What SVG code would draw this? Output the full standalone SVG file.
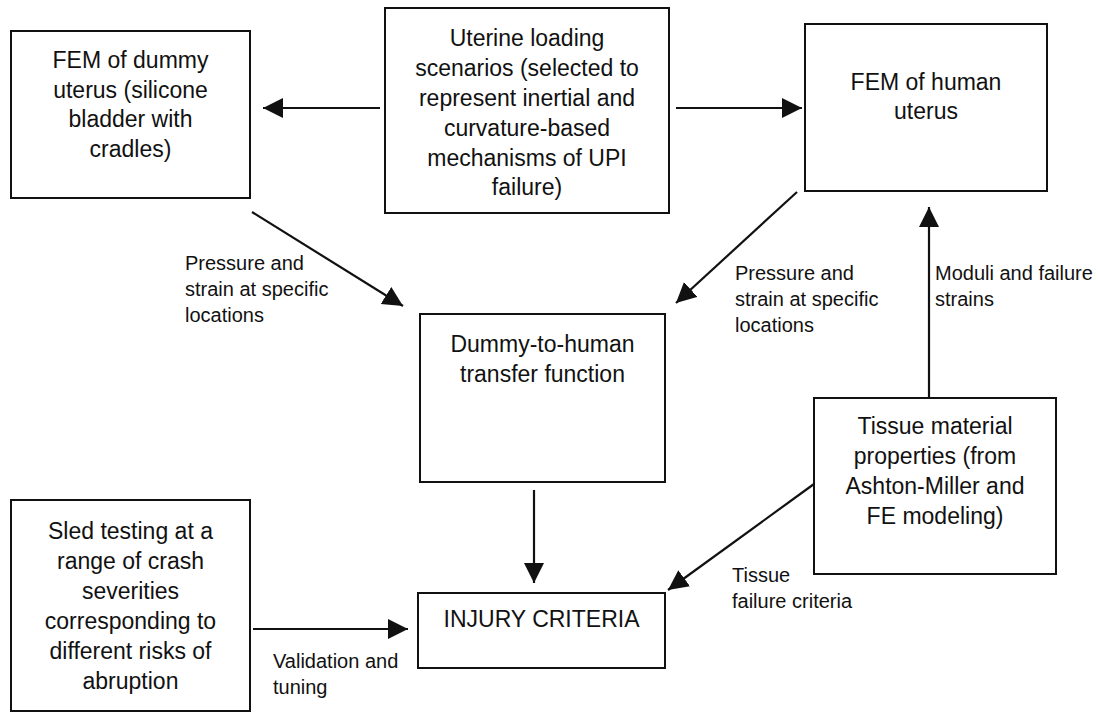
<svg xmlns="http://www.w3.org/2000/svg" width="1098" height="713" viewBox="0 0 1098 713">
<style>
.box{fill:#fff;stroke:#111;stroke-width:2}
.bt{font-family:"Liberation Sans",Arial,sans-serif;font-size:23px;fill:#111;text-anchor:middle}
.lb{font-family:"Liberation Sans",Arial,sans-serif;font-size:20px;fill:#111}
.ar{stroke:#111;stroke-width:2.2;fill:none;marker-end:url(#ah)}
</style>
<defs>
<marker id="ah" markerUnits="userSpaceOnUse" markerWidth="22" markerHeight="22" refX="20" refY="10" orient="auto">
<path d="M0,0 L20,10 L0,20 Z" fill="#111"/>
</marker>
</defs>
<rect width="1098" height="713" fill="#fff"/>
<g id="connectors">
<line class="ar" x1="380" y1="108" x2="263" y2="108"/>
<line class="ar" x1="676" y1="108" x2="802" y2="108"/>
<line class="ar" x1="252" y1="212" x2="403" y2="306"/>
<line class="ar" x1="797" y1="192" x2="676" y2="303"/>
<line class="ar" x1="534" y1="490" x2="534" y2="583"/>
<line class="ar" x1="253" y1="629" x2="408" y2="629"/>
<line class="ar" x1="929" y1="398" x2="929" y2="207"/>
<line class="ar" x1="814" y1="484" x2="668" y2="590"/>
<text class="lb" x="185" y="270">Pressure and</text>
<text class="lb" x="185" y="296">strain at specific</text>
<text class="lb" x="185" y="322">locations</text>
<text class="lb" x="735" y="280">Pressure and</text>
<text class="lb" x="735" y="306">strain at specific</text>
<text class="lb" x="735" y="332">locations</text>
<text class="lb" x="935" y="280">Moduli and failure</text>
<text class="lb" x="935" y="306">strains</text>
<text class="lb" x="732" y="582">Tissue</text>
<text class="lb" x="732" y="608">failure criteria</text>
<text class="lb" x="273" y="668">Validation and</text>
<text class="lb" x="273" y="694">tuning</text>
</g>
<g id="fem-dummy">
<rect class="box" x="11" y="31" width="239" height="167"/>
<text class="bt" x="130.5" y="68">FEM of dummy</text>
<text class="bt" x="130.5" y="98">uterus (silicone</text>
<text class="bt" x="130.5" y="127">bladder with</text>
<text class="bt" x="130.5" y="157">cradles)</text>
</g>
<g id="loading">
<rect class="box" x="385" y="8" width="284" height="205"/>
<text class="bt" x="527" y="46">Uterine loading</text>
<text class="bt" x="527" y="76">scenarios (selected to</text>
<text class="bt" x="527" y="106">represent inertial and</text>
<text class="bt" x="527" y="136">curvature-based</text>
<text class="bt" x="527" y="166">mechanisms of UPI</text>
<text class="bt" x="527" y="195">failure)</text>
</g>
<g id="fem-human">
<rect class="box" x="805" y="24" width="242" height="167"/>
<text class="bt" x="926" y="90">FEM of human</text>
<text class="bt" x="926" y="119">uterus</text>
</g>
<g id="transfer">
<rect class="box" x="420" y="314" width="245" height="168"/>
<text class="bt" x="542.5" y="352">Dummy-to-human</text>
<text class="bt" x="542.5" y="382">transfer function</text>
</g>
<g id="sled">
<rect class="box" x="11" y="500" width="239" height="211"/>
<text class="bt" x="130.5" y="539">Sled testing at a</text>
<text class="bt" x="130.5" y="569">range of crash</text>
<text class="bt" x="130.5" y="599">severities</text>
<text class="bt" x="130.5" y="629">corresponding to</text>
<text class="bt" x="130.5" y="659">different risks of</text>
<text class="bt" x="130.5" y="689">abruption</text>
</g>
<g id="injury">
<rect class="box" x="418" y="593" width="247" height="75"/>
<text class="bt" x="541.5" y="627">INJURY CRITERIA</text>
</g>
<g id="tissue">
<rect class="box" x="814" y="398" width="242" height="176"/>
<text class="bt" x="935" y="434">Tissue material</text>
<text class="bt" x="935" y="464">properties (from</text>
<text class="bt" x="935" y="494">Ashton-Miller and</text>
<text class="bt" x="935" y="524">FE modeling)</text>
</g>
</svg>
